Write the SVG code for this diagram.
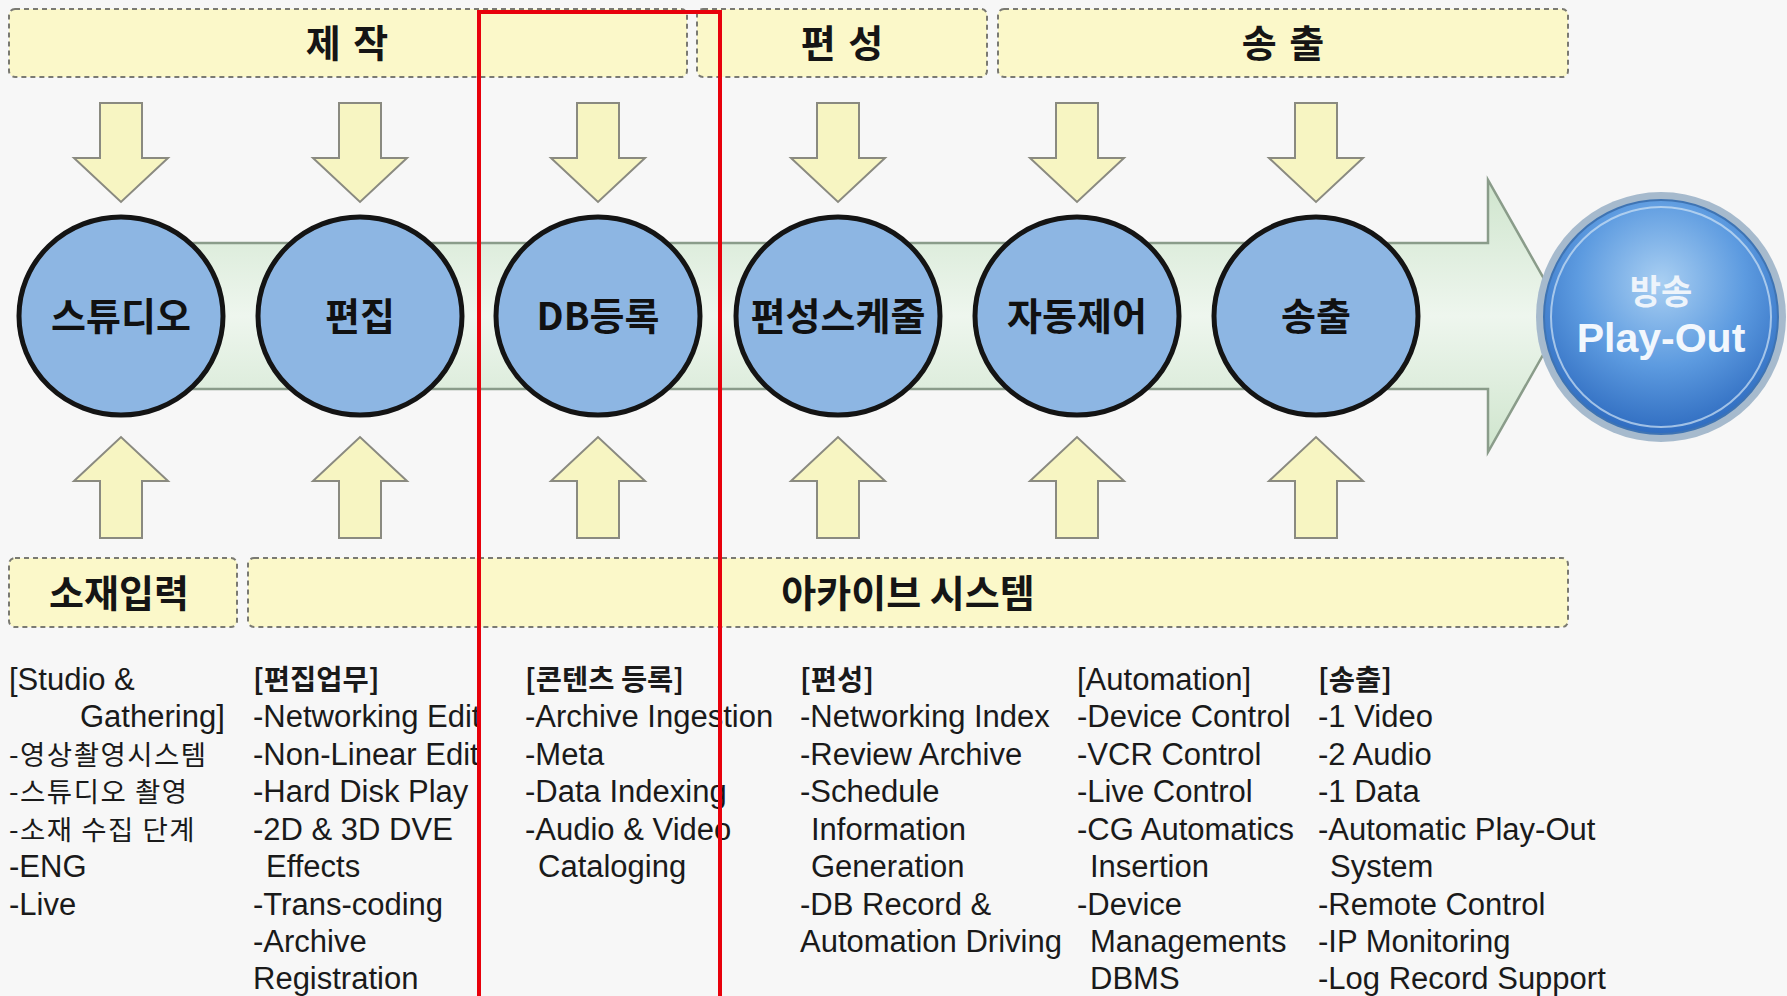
<svg xmlns="http://www.w3.org/2000/svg" width="1787" height="996" viewBox="0 0 1787 996">
<defs>
<style>
.hdr{fill:#fbf8c9;stroke:#7a7a72;stroke-width:2;stroke-dasharray:5 4}
.hl{font-family:"Noto Sans CJK KR","Liberation Sans",sans-serif;font-weight:700;font-size:38px;fill:#151515;text-anchor:middle}
.arr{fill:#f7f5c2;stroke:#8a8a80;stroke-width:2}
.node{fill:#8db6e3;stroke:#141414;stroke-width:5}
.nl{font-family:"Noto Sans CJK KR","Liberation Sans",sans-serif;font-weight:700;font-size:38px;fill:#111;text-anchor:middle}
.t{font-family:"Liberation Sans","Noto Sans CJK KR",sans-serif;font-size:31px;fill:#1a1a1a}
.k{font-family:"Noto Sans CJK KR","Liberation Sans",sans-serif;font-size:27.5px;letter-spacing:1.5px;fill:#1a1a1a}
.kb{font-family:"Noto Sans CJK KR","Liberation Sans",sans-serif;font-size:28.5px;font-weight:700;fill:#1a1a1a}
</style>
<linearGradient id="band" x1="0" y1="0" x2="0" y2="1">
<stop offset="0" stop-color="#cfe5cd"/>
<stop offset="0.5" stop-color="#eef6ee"/>
<stop offset="1" stop-color="#cfe5cd"/>
</linearGradient>
<radialGradient id="po" cx="0.5" cy="0.35" r="0.65">
<stop offset="0" stop-color="#a9cff2"/>
<stop offset="0.55" stop-color="#5d9be0"/>
<stop offset="1" stop-color="#2f6cc0"/>
</radialGradient>
<polygon id="down" class="arr" points="-21,0 21,0 21,55 47,55 0,99 -47,55 -21,55"/>
<polygon id="up" class="arr" points="-21,101 21,101 21,44 47,44 0,0 -47,44 -21,44"/>
</defs>
<rect width="1787" height="996" fill="#f7f7f7"/>

<g id="header-jejak"><rect class="hdr" x="9" y="9" width="678" height="68" rx="6"/><text class="hl" x="348" y="57" letter-spacing="2">제 작</text></g>
<g id="header-pyeonseong"><rect class="hdr" x="697" y="9" width="290" height="68" rx="6"/><text class="hl" x="843" y="57" letter-spacing="2">편 성</text></g>
<g id="header-songchul"><rect class="hdr" x="998" y="9" width="570" height="68" rx="6"/><text class="hl" x="1284" y="57" letter-spacing="2">송 출</text></g>

<g id="connectors">
<polygon points="121,243 1488,243 1488,180 1565,316 1488,452 1488,389 121,389" fill="url(#band)" stroke="#8a9c8a" stroke-width="2.5"/>
<use href="#down" x="121" y="103"/><use href="#down" x="360" y="103"/><use href="#down" x="598" y="103"/>
<use href="#down" x="838" y="103"/><use href="#down" x="1077" y="103"/><use href="#down" x="1316" y="103"/>
<use href="#up" x="121" y="437"/><use href="#up" x="360" y="437"/><use href="#up" x="598" y="437"/>
<use href="#up" x="838" y="437"/><use href="#up" x="1077" y="437"/><use href="#up" x="1316" y="437"/>
</g>

<g id="n-studio"><ellipse class="node" cx="121" cy="316" rx="102" ry="99"/><text class="nl" x="121" y="330">스튜디오</text></g>
<g id="n-edit"><ellipse class="node" cx="360" cy="316" rx="102" ry="99"/><text class="nl" x="360" y="330">편집</text></g>
<g id="n-db"><ellipse class="node" cx="598" cy="316" rx="102" ry="99"/><text class="nl" x="598" y="330">DB등록</text></g>
<g id="n-schedule"><ellipse class="node" cx="838" cy="316" rx="102" ry="99"/><text class="nl" x="838" y="330">편성스케줄</text></g>
<g id="n-auto"><ellipse class="node" cx="1077" cy="316" rx="102" ry="99"/><text class="nl" x="1077" y="330">자동제어</text></g>
<g id="n-send"><ellipse class="node" cx="1316" cy="316" rx="102" ry="99"/><text class="nl" x="1316" y="330">송출</text></g>

<g id="n-playout">
<circle cx="1661" cy="317" r="125" fill="#a6bacd"/>
<circle cx="1661" cy="317" r="117" fill="url(#po)" stroke="#3f74b3" stroke-width="2"/>
<circle cx="1661" cy="317" r="110" fill="none" stroke="#cfe2f5" stroke-width="2" opacity="0.7"/>
<text x="1661" y="304" text-anchor="middle" font-family="Noto Sans CJK KR,sans-serif" font-weight="700" font-size="34" fill="#eef4fb">방송</text>
<text x="1661" y="352" text-anchor="middle" font-family="Liberation Sans,sans-serif" font-weight="700" font-size="41" fill="#f2f7fd">Play-Out</text>
</g>

<g id="box-input"><rect class="hdr" x="9" y="558" width="228" height="69" rx="6"/><text class="hl" x="119" y="607">소재입력</text></g>
<g id="box-archive"><rect class="hdr" x="248" y="558" width="1320" height="69" rx="6"/><text class="hl" x="908" y="607">아카이브 시스템</text></g>

<g id="col1">
<text class="t" x="9" y="690">[Studio &amp;</text>
<text class="t" x="80" y="727">Gathering]</text>
<text class="k" x="9" y="765">-영상촬영시스템</text>
<text class="k" x="9" y="802">-스튜디오 촬영</text>
<text class="k" x="9" y="840">-소재 수집 단계</text>
<text class="t" x="9" y="877">-ENG</text>
<text class="t" x="9" y="915">-Live</text>
</g>
<g id="col2">
<text class="kb" x="253" y="690">[편집업무]</text>
<text class="t" x="253" y="727">-Networking Edit</text>
<text class="t" x="253" y="765">-Non-Linear Edit</text>
<text class="t" x="253" y="802">-Hard Disk Play</text>
<text class="t" x="253" y="840">-2D &amp; 3D DVE</text>
<text class="t" x="266" y="877">Effects</text>
<text class="t" x="253" y="915">-Trans-coding</text>
<text class="t" x="253" y="952">-Archive</text>
<text class="t" x="253" y="989">Registration</text>
</g>
<g id="col3">
<text class="kb" x="525" y="690">[콘텐츠 등록]</text>
<text class="t" x="525" y="727">-Archive Ingestion</text>
<text class="t" x="525" y="765">-Meta</text>
<text class="t" x="525" y="802">-Data Indexing</text>
<text class="t" x="525" y="840">-Audio &amp; Video</text>
<text class="t" x="538" y="877">Cataloging</text>
</g>
<g id="col4">
<text class="kb" x="800" y="690">[편성]</text>
<text class="t" x="800" y="727">-Networking Index</text>
<text class="t" x="800" y="765">-Review Archive</text>
<text class="t" x="800" y="802">-Schedule</text>
<text class="t" x="811" y="840">Information</text>
<text class="t" x="811" y="877">Generation</text>
<text class="t" x="800" y="915">-DB Record &amp;</text>
<text class="t" x="800" y="952">Automation Driving</text>
</g>
<g id="col5">
<text class="t" x="1077" y="690">[Automation]</text>
<text class="t" x="1077" y="727">-Device Control</text>
<text class="t" x="1077" y="765">-VCR Control</text>
<text class="t" x="1077" y="802">-Live Control</text>
<text class="t" x="1077" y="840">-CG Automatics</text>
<text class="t" x="1090" y="877">Insertion</text>
<text class="t" x="1077" y="915">-Device</text>
<text class="t" x="1090" y="952">Managements</text>
<text class="t" x="1090" y="989">DBMS</text>
</g>
<g id="col6">
<text class="kb" x="1318" y="690">[송출]</text>
<text class="t" x="1318" y="727">-1 Video</text>
<text class="t" x="1318" y="765">-2 Audio</text>
<text class="t" x="1318" y="802">-1 Data</text>
<text class="t" x="1318" y="840">-Automatic Play-Out</text>
<text class="t" x="1330" y="877">System</text>
<text class="t" x="1318" y="915">-Remote Control</text>
<text class="t" x="1318" y="952">-IP Monitoring</text>
<text class="t" x="1318" y="989">-Log Record Support</text>
</g>

<g id="highlight"><rect x="479" y="12" width="241" height="1000" fill="none" stroke="#e8000b" stroke-width="4"/></g>
</svg>
